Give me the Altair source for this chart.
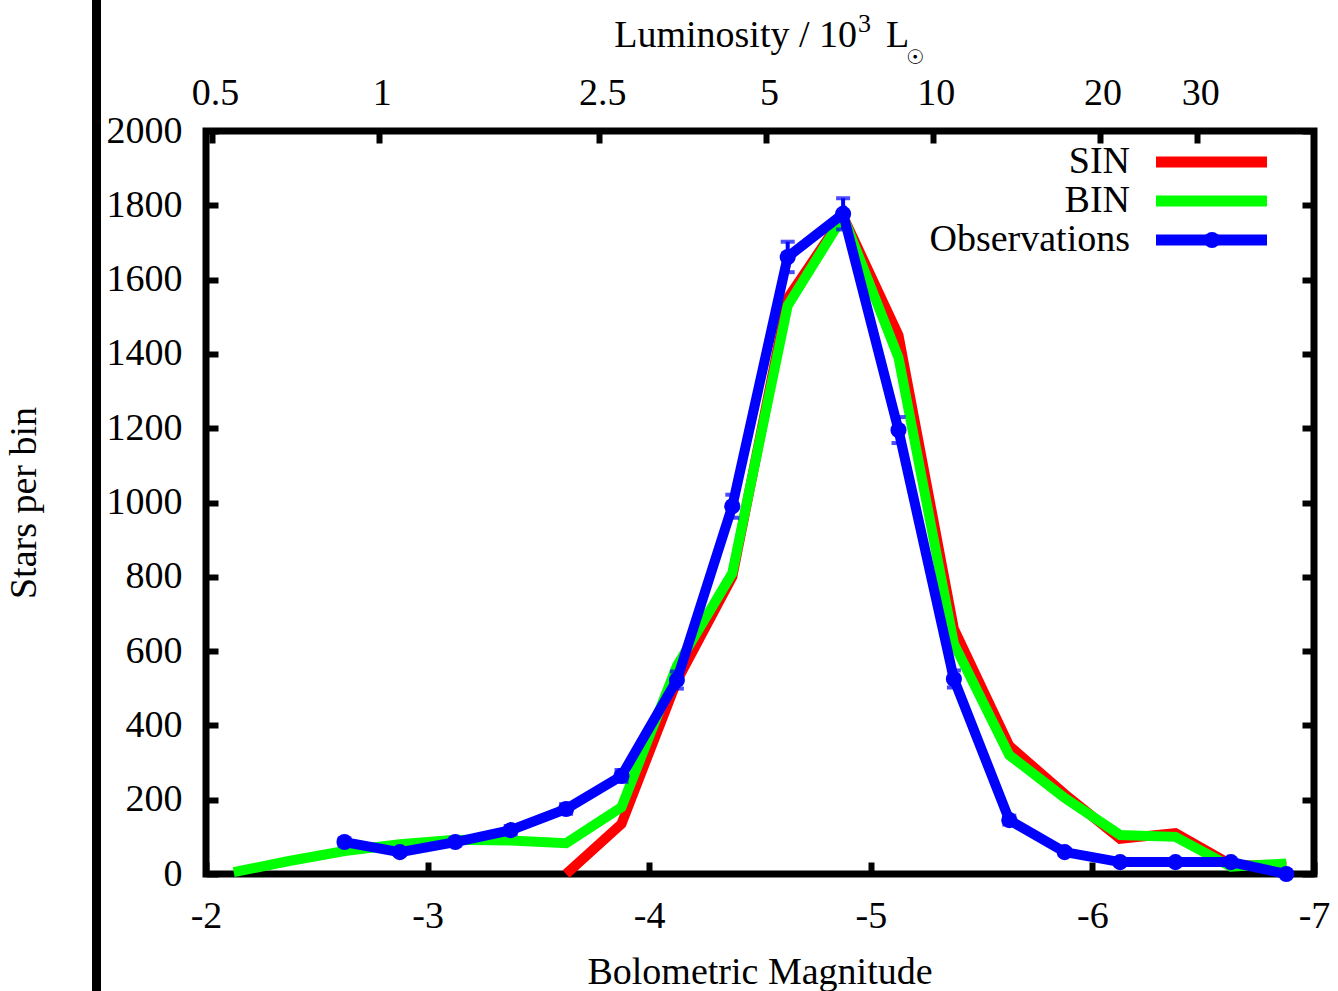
import altair as alt
import pandas as pd
import math

# ---------------- data ----------------
mag = [-2.125, -2.375, -2.625, -2.875, -3.125, -3.375, -3.625, -3.875, -4.125, -4.375,
       -4.625, -4.875, -5.125, -5.375, -5.625, -5.875, -6.125, -6.375, -6.625, -6.875]

sin_mag = mag[6:]
sin_vals = [0, 135, 520, 800, 1550, 1770, 1450, 660, 345, 215, 95, 110, 25, 20]

bin_mag = mag
bin_vals = [5, 35, 62, 80, 92, 90, 83, 180, 560, 810, 1530, 1770, 1390, 620, 320, 205, 105, 100, 20, 28]

obs_mag = mag[2:]
obs_vals = [86, 59, 86, 118, 175, 264, 522, 990, 1661, 1777, 1195, 525, 145, 59, 32, 32, 32, 0]
obs_err = [9, 8, 9, 11, 13, 16, 23, 31, 41, 42, 35, 23, 12, 8, 6, 6, 6, 0]

x_ticks = [-2, -3, -4, -5, -6, -7]
y_ticks = [0, 200, 400, 600, 800, 1000, 1200, 1400, 1600, 1800, 2000]
lum_ticks = [0.5, 1, 2.5, 5, 10, 20, 30]   # in units of 10^3 Lsun
M_SUN = 4.72

lum_positions = [M_SUN - 2.5 * math.log10(L * 1000.0) for L in lum_ticks]

sin_df = pd.DataFrame({"mag": sin_mag, "n": sin_vals})
bin_df = pd.DataFrame({"mag": bin_mag, "n": bin_vals})
obs_df = pd.DataFrame({"mag": obs_mag, "n": obs_vals, "err": obs_err})
obs_df["lo"] = obs_df["n"] - obs_df["err"]
obs_df["hi"] = obs_df["n"] + obs_df["err"]

FONT = "Liberation Serif"
FS = 38
W, H = 1108, 743
PL, PT = 206, 131

xscale = alt.Scale(domain=[-7, -2], reverse=True, nice=False, zero=False)
yscale = alt.Scale(domain=[0, 2000], nice=False, zero=False)

common_axis = dict(domain=False, grid=False, tickColor="black", tickWidth=6, tickSize=12,
                   offset=-12, labelFont=FONT, labelFontSize=FS, labelColor="black",
                   labelOverlap=False, labelFlush=False, title=None)

x_bottom = alt.Axis(orient="bottom", values=x_ticks, labelExpr="'' + datum.value",
                    labelPadding=53, labelBaseline="alphabetic", **common_axis)
y_left = alt.Axis(orient="left", values=y_ticks, format="d", labelPadding=24,
                  labelBaseline="middle", **common_axis)
x_top = alt.Axis(orient="top", values=lum_positions,
                 labelExpr="format(pow(10, (%f - datum.value) / 2.5) / 1000, '.1~f')" % M_SUN,
                 labelPadding=27, labelBaseline="alphabetic", labelOffset=3, **common_axis)
y_right = alt.Axis(orient="right", values=y_ticks, labels=False, **common_axis)

red = alt.Chart(sin_df).mark_line(color="#ff0000", strokeWidth=10).encode(
    x=alt.X("mag:Q", scale=xscale, axis=x_bottom),
    y=alt.Y("n:Q", scale=yscale, axis=y_left),
)
green = alt.Chart(bin_df).mark_line(color="#00ff00", strokeWidth=10).encode(
    x=alt.X("mag:Q", scale=xscale, axis=None),
    y=alt.Y("n:Q", scale=yscale, axis=None),
)
blue_line = alt.Chart(obs_df).mark_line(color="#0000ff", strokeWidth=10).encode(
    x=alt.X("mag:Q", scale=xscale, axis=None),
    y=alt.Y("n:Q", scale=yscale, axis=None),
)
blue_err = alt.Chart(obs_df).mark_rule(color="#0000ff", strokeWidth=4).encode(
    x=alt.X("mag:Q", scale=xscale, axis=None),
    y=alt.Y("lo:Q", scale=yscale, axis=None),
    y2="hi:Q",
)
blue_cap_lo = alt.Chart(obs_df).mark_tick(color="#0000ff", thickness=4, size=14, orient="horizontal").encode(
    x=alt.X("mag:Q", scale=xscale, axis=None),
    y=alt.Y("lo:Q", scale=yscale, axis=None),
)
blue_cap_hi = alt.Chart(obs_df).mark_tick(color="#0000ff", thickness=4, size=14, orient="horizontal").encode(
    x=alt.X("mag:Q", scale=xscale, axis=None),
    y=alt.Y("hi:Q", scale=yscale, axis=None),
)
blue_pts = alt.Chart(obs_df).mark_point(color="#0000ff", filled=True, opacity=1, size=260).encode(
    x=alt.X("mag:Q", scale=xscale, axis=None),
    y=alt.Y("n:Q", scale=yscale, axis=None),
)
# carrier of the top (luminosity) and right axes
dummy = alt.Chart(obs_df).mark_point(opacity=0).encode(
    x=alt.X("mag:Q", scale=xscale, axis=x_top),
    y=alt.Y("n:Q", scale=yscale, axis=y_right),
)

one = pd.DataFrame({"a": [0]})


def txt(text, x, y, size=FS, align="center", baseline="alphabetic", angle=0, font=FONT):
    kw = dict(text=text, font=font, fontSize=size, align=align, baseline=baseline, color="black")
    if angle:
        kw["angle"] = angle
    return alt.Chart(one).mark_text(**kw).encode(x=alt.value(x), y=alt.value(y))


# legend (labels left of samples)
leg_y = [31, 70, 109]
leg = [
    txt("SIN", 924, leg_y[0], baseline="middle", align="right"),
    txt("BIN", 924, leg_y[1], baseline="middle", align="right"),
    txt("Observations", 924, leg_y[2], baseline="middle", align="right"),
    alt.Chart(one).mark_rule(color="#ff0000", strokeWidth=11).encode(
        x=alt.value(950), x2=alt.value(1061), y=alt.value(leg_y[0])),
    alt.Chart(one).mark_rule(color="#00ff00", strokeWidth=11).encode(
        x=alt.value(950), x2=alt.value(1061), y=alt.value(leg_y[1])),
    alt.Chart(one).mark_rule(color="#0000ff", strokeWidth=11).encode(
        x=alt.value(950), x2=alt.value(1061), y=alt.value(leg_y[2])),
    alt.Chart(one).mark_point(color="#0000ff", filled=True, opacity=1, size=260).encode(
        x=alt.value(1006), y=alt.value(leg_y[2])),
]

titles = [
    txt("Luminosity / 10", 651, -84, align="right"),
    txt("3", 652, -99, size=26, align="left"),
    txt("L", 680, -84, align="left"),
    txt("\u2609", 709, -73, size=20, baseline="middle", font="DejaVu Sans"),
    txt("Bolometric Magnitude", 554, 842, baseline="middle"),
    txt("Stars per bin", -181, 372, baseline="middle", angle=270),
]

left_bar = alt.Chart(one).mark_rule(color="black", strokeWidth=9).encode(
    x=alt.value(96.5 - PL), y=alt.value(-PT), y2=alt.value(991 - PT))

chart = alt.layer(
    red, green, blue_line, blue_err, blue_cap_lo, blue_cap_hi, blue_pts, dummy,
    *leg, *titles, left_bar
).resolve_axis(x="independent", y="independent").properties(
    width=W, height=H,
    autosize=alt.AutoSizeParams(type="none"),
    padding={"left": PL, "top": PT, "right": 1338 - PL - W, "bottom": 991 - PT - H},
    background="white",
).configure_view(stroke="black", strokeWidth=7)

chart.save("out.html", embed_options={"renderer": "svg", "actions": False})
